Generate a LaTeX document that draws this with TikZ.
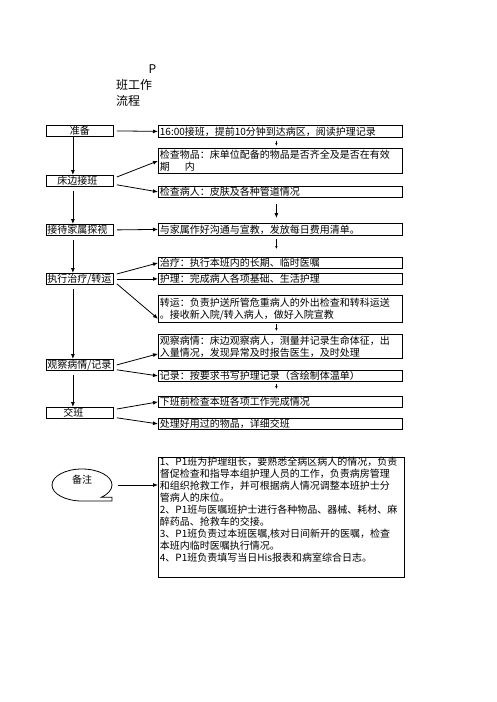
\documentclass[tikz,border=0pt]{standalone}
\usepackage{fontspec}
\setmainfont{Noto Sans CJK SC}
\usetikzlibrary{arrows.meta}

\begin{document}
\begin{tikzpicture}[
  x=1pt,y=-1pt,
  font=\fontsize{10}{12}\selectfont,
  >={Latex[length=5pt,width=4pt]},
  leftbox/.style={draw,line width=0.8pt,anchor=north west,minimum width=67pt,minimum height=11pt,inner sep=0pt,text width=65pt,align=left},
  rightbox/.style={draw,line width=0.8pt,anchor=north west,minimum width=244pt,inner xsep=1.5pt,inner ysep=0pt,text width=241pt,align=left},
  notebox/.style={rightbox,minimum width=246pt,text width=243pt},
  arr/.style={->,line width=0.8pt},
  tinyarr/.style={-{Latex[length=3pt,width=2.5pt]},line width=0.5pt},
]
\useasboundingbox[fill=white] (0,0) rectangle (496,702);

\node[anchor=north west,align=left,inner sep=0pt,text width=40pt,font=\fontsize{12}{16}\selectfont] (title) at (116,65) {\hfill P\\班工作\\流程};

\node[leftbox,align=center] (prep) at (46,125) {准备};
\node[leftbox] (bed) at (46,175) {\hspace*{10pt}床边接班};
\node[leftbox] (visit) at (46,224) {接待家属探视};
\node[leftbox] (exec) at (46,273) {执行治疗/转运};
\node[leftbox] (obs) at (46,359) {观察病情/记录};
\node[leftbox] (hand) at (46,407) {\hspace*{16pt}交班};

\node[rightbox,minimum height=12pt] (r1) at (158,125) {16:00接班，提前10分钟到达病区，阅读护理记录};
\node[rightbox,minimum height=25pt] (r2) at (158,148) {检查物品：床单位配备的物品是否齐全及是否在有效\\期\hspace*{15pt}内};
\node[rightbox,minimum height=11pt] (r3) at (158,186) {检查病人：皮肤及各种管道情况};
\node[rightbox,minimum height=12pt] (r4) at (158,223) {与家属作好沟通与宣教，发放每日费用清单。};
\node[rightbox,minimum height=11pt] (r5) at (158,257) {治疗：执行本班内的长期、临时医嘱};
\node[rightbox,minimum height=11pt] (r6) at (158,273) {护理：完成病人各项基础、生活护理};
\node[rightbox,minimum height=27pt] (r7) at (158,295) {转运：负责护送所管危重病人的外出检查和转科运送\\。接收新入院/转入病人，做好入院宣教};
\node[rightbox,minimum height=24pt] (r8) at (158,334) {观察病情：床边观察病人，测量并记录生命体征，出\\入量情况，发现异常及时报告医生，及时处理};
\node[rightbox,minimum height=11pt] (r9) at (158,370) {记录：按要求书写护理记录（含绘制体温单）};
\node[rightbox,minimum height=11pt] (r10) at (158,396) {下班前检查本班各项工作完成情况};
\node[rightbox,minimum height=11pt] (r11) at (158,418) {处理好用过的物品，详细交班};

\node[notebox] (note) at (158,457) {1、P1班为护理组长，要熟悉全病区病人的情况，负责\\督促检查和指导本组护理人员的工作，负责病房管理\\和组织抢救工作，并可根据病人情况调整本班护士分\\管病人的床位。\\2、P1班与医嘱班护士进行各种物品、器械、耗材、麻\\醉药品、抢救车的交接。\\3、P1班负责过本班医嘱,核对日间新开的医嘱，检查\\本班内临时医嘱执行情况。\\4、P1班负责填写当日His报表和病室综合日志。\\\strut};

\draw[line width=0.8pt] (112,501) -- (82,501) arc[start angle=270,end angle=-50,x radius=30pt,y radius=16pt] -- (112,497.3) -- cycle;
\node (remark) at (82,480) {备注};
\coordinate (remarkout) at (118,485);

\draw[arr] ([xshift=-7pt]prep.south) -- ([xshift=-7pt]bed.north);
\draw[arr,shorten <=4pt] ([xshift=-7pt]bed.south) -- ([xshift=-7pt]visit.north);
\draw[arr,shorten <=4pt] ([xshift=-7pt]visit.south) -- ([xshift=-7pt]exec.north);
\draw[arr,shorten <=4pt] ([xshift=-7pt]exec.south) -- ([xshift=-7pt]obs.north);
\draw[arr,shorten <=4pt] ([xshift=-7pt]obs.south) -- ([xshift=-7pt]hand.north);

\draw[arr] ([xshift=3pt]prep.east) -- (r1.west);
\draw[arr] ([xshift=3pt,yshift=-2pt]bed.north east) -- (r2.west);
\draw[arr] ([xshift=3pt,yshift=2pt]bed.south east) -- (r3.west);
\draw[arr] ([xshift=3pt]visit.east) -- (r4.west);
\draw[arr] ([xshift=3pt,yshift=-1pt]exec.north east) -- (r5.west);
\draw[arr] ([xshift=3pt]exec.east) -- (r6.west);
\draw[arr] ([xshift=3pt,yshift=1pt]exec.south east) -- ([yshift=4pt]r7.south west);
\draw[arr] ([xshift=3pt]obs.east) -- ([yshift=5pt]r8.south west);
\draw[arr] ([xshift=3pt,yshift=1pt]obs.south east) -- (r9.west);
\draw[arr] ([xshift=3pt,yshift=-2pt]hand.north east) -- (r10.west);
\draw[arr] ([xshift=3pt,yshift=1pt]hand.south east) -- (r11.west);
\draw[arr] (remarkout) -- (remarkout -| note.west);

\draw[tinyarr,shorten <=3pt,shorten >=2pt] ([xshift=-4pt]r1.south) -- ([xshift=-4pt]r2.north);
\draw[arr,shorten <=6pt,shorten >=5pt] ([xshift=-4pt]r3.south) -- ([xshift=-4pt]r4.north);
\draw[tinyarr,shorten <=3pt,shorten >=8pt] ([xshift=-4pt]r4.south) -- ([xshift=-4pt]r5.north);
\draw[tinyarr,shorten <=1pt,shorten >=3pt] ([xshift=-4pt]r7.south) -- ([xshift=-4pt]r8.north);
\draw[tinyarr,shorten <=2pt,shorten >=7pt] ([xshift=-4pt]r9.south) -- ([xshift=-4pt]r10.north);
\end{tikzpicture}
\end{document}
